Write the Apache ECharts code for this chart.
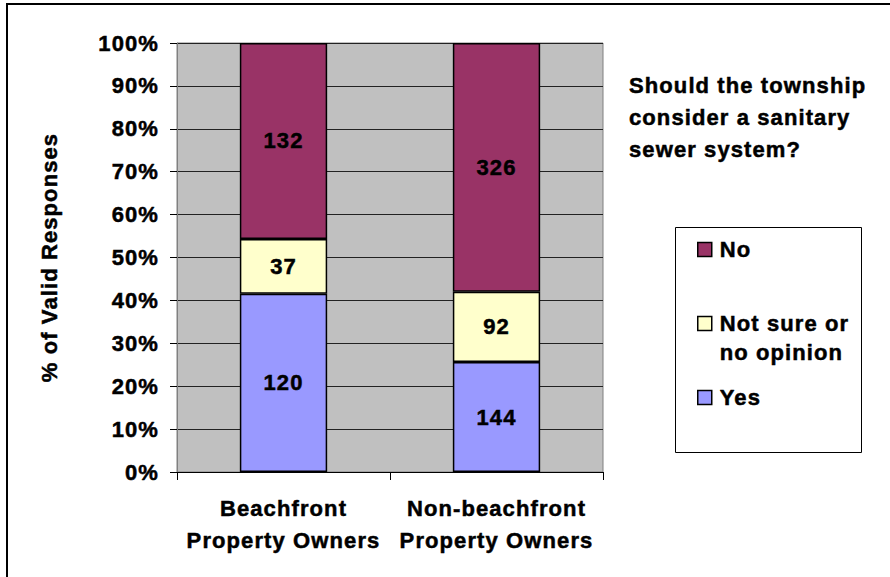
<!DOCTYPE html>
<html>
<head>
<meta charset="utf-8">
<script src="https://cdn.jsdelivr.net/npm/echarts@6/dist/echarts.min.js"></script>
<style>
  html, body { margin: 0; padding: 0; background: #fff; }
  #chart { width: 890px; height: 577px; }
  #chart text { letter-spacing: 1.1px; }
</style>
</head>
<body>
<div id="chart"></div>
<script>
// Survey responses per owner group (counts)
const categories = ['Beachfront\nProperty Owners', 'Non-beachfront\nProperty Owners'];
const yesCounts = [120, 144];
const notSureCounts = [37, 92];
const noCounts = [132, 326];
const seriesNames = ['Yes', 'Not sure or no opinion', 'No'];
const legendOrder = ['No', 'Not sure or no opinion', 'Yes'];
const titleText = 'Should the township\nconsider a sanitary\nsewer system?';
const yAxisTitle = '% of Valid Responses';

const FONT = "'Liberation Sans', Arial, sans-serif";
const COLORS = { 'Yes': '#9999FF', 'Not sure or no opinion': '#FFFFCC', 'No': '#993366' };

// share of each answer within a group, in percent
const totals = categories.map((_, i) => yesCounts[i] + notSureCounts[i] + noCounts[i]);
const toPercent = counts => counts.map((c, i) => c / totals[i] * 100);
const countsByName = {
  'Yes': yesCounts,
  'Not sure or no opinion': notSureCounts,
  'No': noCounts
};

// heavy bold text: a thin outline in the same colour thickens the strokes
const textBase = {
  fontFamily: FONT, fontWeight: 'bold', fontSize: 22, color: '#000',
  textBorderColor: '#000', textBorderWidth: 0.5
};

const chart = echarts.init(document.getElementById('chart'), null, { renderer: 'svg' });

chart.setOption({
  animation: false,
  backgroundColor: '#fff',
  title: {
    text: titleText,
    left: 624,
    top: 64,
    textStyle: Object.assign({}, textBase, { lineHeight: 32 })
  },
  legend: {
    orient: 'vertical',
    left: 692,
    top: 230,
    itemWidth: 14,
    itemHeight: 14,
    itemGap: 16,
    icon: 'rect',
    selectedMode: false,
    data: legendOrder,
    formatter: name => name === 'Not sure or no opinion' ? '\nNot sure or\nno opinion' : name,
    textStyle: Object.assign({}, textBase, { lineHeight: 29, padding: [0, 0, 0, 3] }),
    itemStyle: { borderColor: '#000', borderWidth: 1.5 }
  },
  grid: {
    left: 177,
    right: 287,
    top: 43,
    bottom: 105,
    show: true,
    backgroundColor: '#C0C0C0',
    borderColor: '#808080',
    borderWidth: 1,
    containLabel: false,
    outerBoundsMode: 'none'
  },
  xAxis: {
    type: 'category',
    data: categories,
    axisLine: { show: true, lineStyle: { color: '#000', width: 1 } },
    axisTick: { show: true, length: 8, alignWithLabel: false, lineStyle: { color: '#000' } },
    axisLabel: Object.assign({}, textBase, { margin: 20, lineHeight: 32, interval: 0 }),
    splitLine: { show: false }
  },
  yAxis: {
    type: 'value',
    min: 0,
    max: 100,
    interval: 10,
    name: yAxisTitle,
    nameLocation: 'middle',
    nameRotate: 90,
    nameGap: 117,
    nameTextStyle: textBase,
    axisLine: { show: true, lineStyle: { color: '#808080', width: 1 } },
    axisTick: { show: true, length: 7, lineStyle: { color: '#000' } },
    axisLabel: Object.assign({}, textBase, { margin: 18, formatter: '{value}%' }),
    splitLine: { show: true, lineStyle: { color: '#222', width: 1 } }
  },
  series: seriesNames.map(name => ({
    name: name,
    type: 'bar',
    stack: 'share',
    barWidth: '41%',
    data: toPercent(countsByName[name]),
    itemStyle: { color: COLORS[name], borderColor: '#000', borderWidth: 1.5 },
    label: Object.assign({}, textBase, {
      show: true,
      position: 'inside',
      formatter: p => String(countsByName[name][p.dataIndex])
    })
  })),
  graphic: [
    {
      type: 'rect',
      shape: { x: 675.5, y: 227.5, width: 186, height: 225 },
      style: { fill: 'none', stroke: '#000', lineWidth: 1 },
      z: -1
    },
    {
      type: 'rect',
      shape: { x: 7, y: 4, width: 1000, height: 1000 },
      style: { fill: 'none', stroke: '#000', lineWidth: 2 },
      z: -1
    }
  ]
});
</script>
</body>
</html>
